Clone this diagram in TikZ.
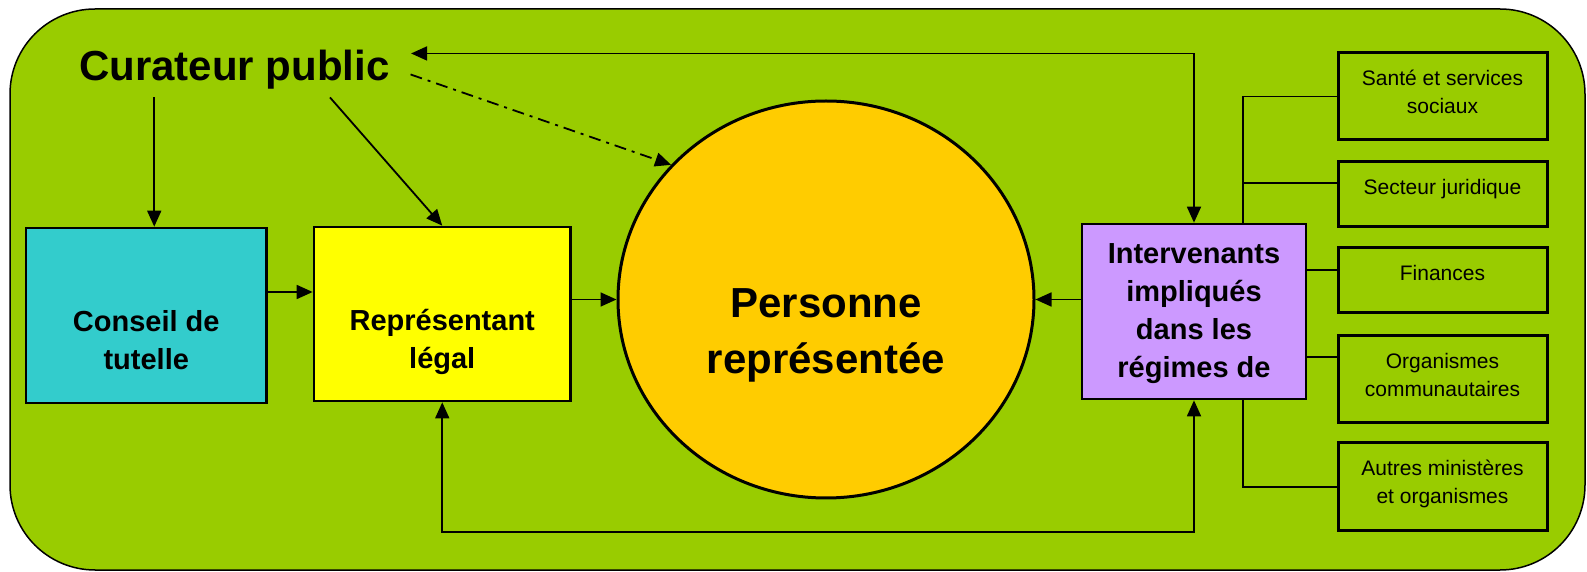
\documentclass[tikz,border=0pt]{standalone}
\usepackage{fontspec}
\setmainfont{Liberation Sans}
\usetikzlibrary{arrows.meta,calc,shapes.geometric}
\definecolor{bggreen}{HTML}{99CC00}
\definecolor{tutcol}{HTML}{33CCCC}
\definecolor{repcol}{HTML}{FFFF00}
\definecolor{perscol}{HTML}{FFCC00}
\definecolor{intcol}{HTML}{CC99FF}

\begin{document}
\begin{tikzpicture}[x=0.5pt,y=-0.5pt,
    >={Triangle[width=7pt,length=8pt]},
    tbox/.style={draw, line width=1.35pt, inner sep=0pt},
    sidebox/.style={draw, line width=1.5pt, fill=bggreen, inner sep=0pt, minimum width=104.5pt},
    bigtxt/.style={font=\fontsize{21}{28}\selectfont\bfseries, align=center, inner sep=0pt, anchor=north},
    boxtxt/.style={font=\fontsize{14.5}{19}\selectfont\bfseries, align=center, inner sep=0pt, anchor=north},
    sidetxt/.style={font=\fontsize{10.5}{14}\selectfont, align=center, inner sep=0pt, anchor=north},
    arr/.style={line width=0.9pt, ->},
    both/.style={line width=0.9pt, <->},
    link/.style={line width=0.8pt}]
    \useasboundingbox (0,0) rectangle (1587,572);
    \filldraw[fill=bggreen, line width=0.75pt, rounded corners=42.5pt] (10,9) rectangle (1585,570);

    \node[bigtxt] (cur) at (234.5,49.5) {Curateur public};

    \node[tbox, fill=tutcol, minimum width=120.25pt, minimum height=87.5pt] (conseil) at (146.25,315.5) {};
    \node[tbox, fill=repcol, minimum width=128.25pt, minimum height=87pt] (rep) at (442.25,314) {};
    \node[ellipse, draw, line width=1.5pt, fill=perscol, minimum width=208pt, minimum height=198.5pt, inner sep=0pt] (pers) at (826,299.5) {};
    \node[tbox, fill=intcol, minimum width=112pt, minimum height=87.5pt] (interv) at (1194,311.5) {};

    \node[boxtxt] (conseil-t) at ($(conseil.north)+(0,83)$) {Conseil de\\tutelle};
    \node[boxtxt] (rep-t) at ($(rep.north)+(0,83.5)$) {Représentant\\légal};
    \node[bigtxt] (pers-t) at ($(pers.center)+(0,-11.5)$) {Personne\\représentée};
    \node[boxtxt] (interv-t) at ($(interv.north)+(0,20)$) {Intervenants\\impliqués\\dans les\\régimes de};

    \node[sidebox, minimum height=43.5pt] (sante) at (1442.5,96.5) {};
    \node[sidebox, minimum height=32.5pt] (secteur) at (1442.5,194.5) {};
    \node[sidebox, minimum height=32.5pt] (finances) at (1442.5,280.5) {};
    \node[sidebox, minimum height=43.5pt] (organismes) at (1442.5,379.5) {};
    \node[sidebox, minimum height=44pt] (autres) at (1442.5,487) {};

    \node[sidetxt] (sante-t) at ($(sante.north)+(0,18)$) {Santé et services\\sociaux};
    \node[sidetxt] (secteur-t) at ($(secteur.north)+(0,18)$) {Secteur juridique};
    \node[sidetxt] (finances-t) at ($(finances.north)+(0,18)$) {Finances};
    \node[sidetxt] (organismes-t) at ($(organismes.north)+(0,18)$) {Organismes\\communautaires};
    \node[sidetxt] (autres-t) at ($(autres.north)+(0,18)$) {Autres ministères\\et organismes};

    \coordinate (cur-foot) at ($(cur.south)+(0,8)$);
    \coordinate (c-down) at ($(conseil.north)+(8,0)$);
    \draw[arr] (cur-foot -| c-down) -- (c-down);
    \draw[arr] ($(cur-foot)+(95.5,0)$) -- (rep.north);
    \draw[arr, dash pattern=on 6pt off 3pt on 1.5pt off 3pt] ($(cur.east)+(20.5,5)$) -- (pers.139);
    \draw[both] ($(cur.east)+(21,-16)$) -| (interv.north);

    \coordinate (c-r) at ($(conseil.east)+(0,-23.5)$);
    \draw[arr] (c-r) -- (c-r -| rep.west);
    \draw[arr] (rep.east |- pers.west) -- (pers.west);
    \draw[arr] (interv.west |- pers.east) -- (pers.east);
    \draw[both] (rep.south) -- ++(0,130) -| (interv.south);

    \coordinate (bus-top) at ($(interv.north)+(49,0)$);
    \coordinate (bus-bot) at ($(interv.south)+(49,0)$);
    \draw[link] (sante.west) -| (bus-top);
    \coordinate (sec-in) at ($(secteur.west)+(0,-11.5)$);
    \draw[link] (sec-in) -- (sec-in -| bus-top);
    \coordinate (fin-in) at ($(finances.west)+(0,-10.5)$);
    \draw[link] (fin-in) -- (fin-in -| interv.east);
    \coordinate (org-in) at ($(organismes.west)+(0,-22.5)$);
    \draw[link] (org-in) -- (org-in -| interv.east);
    \draw[link] (autres.west) -| (bus-bot);
\end{tikzpicture}
\end{document}
